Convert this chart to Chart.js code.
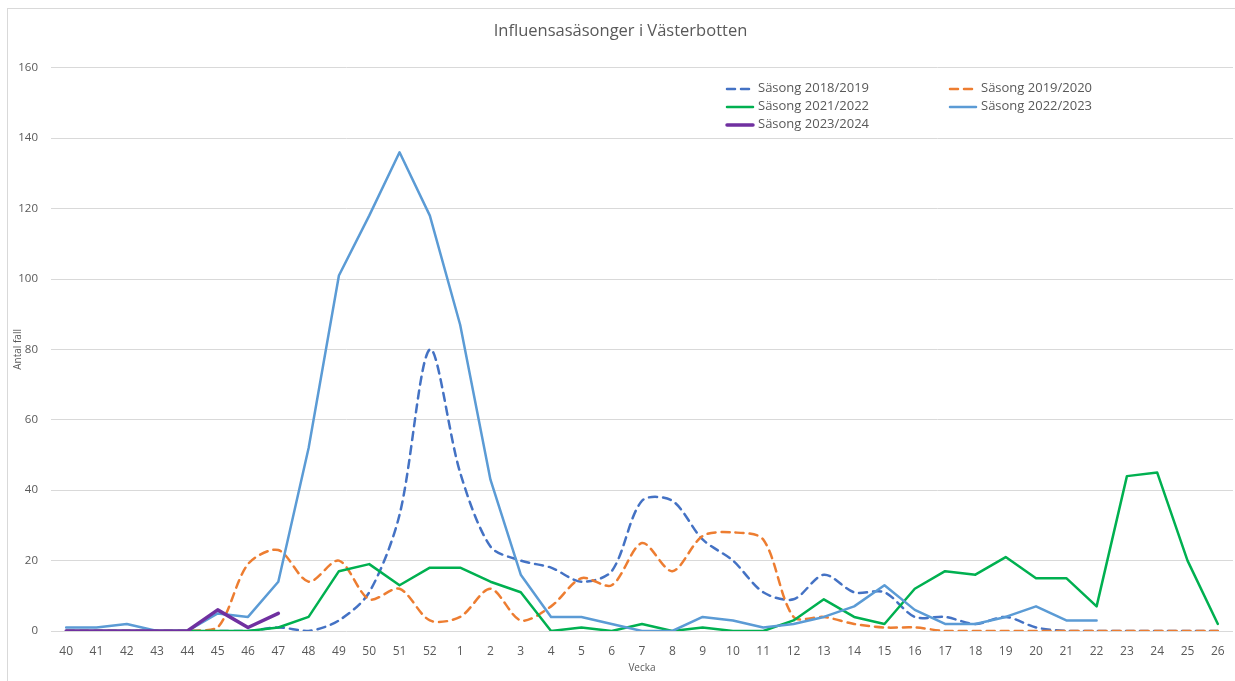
<!DOCTYPE html>
<html>
<head>
<meta charset="utf-8">
<script src="https://cdn.jsdelivr.net/npm/chart.js@4.4.0/dist/chart.umd.min.js"></script>
<style>
  html, body { margin: 0; padding: 0; background: #fff; }
  #wrap { position: relative; width: 1235px; height: 681px; overflow: hidden; }
  #frame { position: absolute; left: 7px; top: 8px; width: 1240px; height: 700px; border: 1px solid #d9d9d9; box-sizing: border-box; }
  #c { position: absolute; left: 0; top: 0; }
  .leg { position: absolute; font-family: "Open Sans", sans-serif; font-size: 13px; color: #595959; white-space: nowrap; line-height: 18px; }
  .leg canvas { vertical-align: middle; margin-right: 3px; }
</style>
</head>
<body>
<div id="wrap">
  <div id="frame"></div>
  <canvas id="c" width="1235" height="681"></canvas>
  <div id="legend"></div>
</div>
<script>
const weeks = ["40","41","42","43","44","45","46","47","48","49","50","51","52",
  "1","2","3","4","5","6","7","8","9","10","11","12","13","14","15","16","17","18","19","20","21","22","23","24","25","26"];

const s1819 = [0,0,0,0,0,0,0,1,0,3,11,33,80,45,24,20,18,14,17,37,37,26,20,11,9,16,11,11,4,4,2,4,1,0,0,0,0,0,0];
const s1920 = [0,0,0,0,0,1,19,23,14,20,9,12,3,4,12,3,7,15,13,25,17,27,28,26,4,4,2,1,1,0,0,0,0,0,0,0,0,0,0];
const s2122 = [0,0,0,0,0,0,0,1,4,17,19,13,18,18,14,11,0,1,0,2,0,1,0,0,3,9,4,2,12,17,16,21,15,15,7,44,45,20,2];
const s2223 = [1,1,2,0,0,5,4,14,52,101,118,136,118,87,43,16,4,4,2,0,0,4,3,1,2,4,7,13,6,2,2,4,7,3,3,null,null,null,null];
const s2324 = [0,0,0,0,0,6,1,5];

const labels = ["Säsong 2018/2019","Säsong 2019/2020","Säsong 2021/2022","Säsong 2022/2023","Säsong 2023/2024"];
const yTicks = [0,20,40,60,80,100,120,140,160];

const grey = "#595959";
const font = "'Open Sans', sans-serif";

const datasets = [
  { label: labels[0], data: s1819, borderColor: "#4472C4", borderDash: [8, 6], tension: 0.3, order: 5 },
  { label: labels[1], data: s1920, borderColor: "#ED7D31", borderDash: [8, 6], tension: 0.3, order: 4 },
  { label: labels[2], data: s2122, borderColor: "#00B050", tension: 0, order: 3 },
  { label: labels[3], data: s2223, borderColor: "#5B9BD5", tension: 0, order: 2 },
  { label: labels[4], data: s2324, borderColor: "#7030A0", tension: 0, order: 1, borderWidth: 3.5 }
];
datasets.forEach(d => {
  d.backgroundColor = d.borderColor;
  d.borderWidth = d.borderWidth || 2.5;
  d.pointRadius = 0;
  d.fill = false;
  d.borderCapStyle = "round";
  d.borderJoinStyle = "round";
});

const chart = new Chart("c", {
  type: "line",
  data: { labels: weeks, datasets: datasets },
  options: {
    responsive: false,
    animation: false,
    layout: { padding: { left: 8, right: 2, top: 0, bottom: 0 } },
    plugins: {
      legend: { display: false },
      tooltip: { enabled: false },
      title: {
        display: true,
        text: "Influensasäsonger i Västerbotten",
        color: grey,
        font: { family: font, size: 16.5, weight: "normal" },
        padding: { top: 21, bottom: 27 }
      }
    },
    scales: {
      x: {
        offset: true,
        grid: { display: false },
        border: { display: false },
        ticks: { color: grey, font: { family: font, size: 12 }, padding: 5, maxRotation: 0, autoSkip: false },
        title: { display: true, text: "Vecka", color: grey, font: { family: font, size: 10 }, padding: { top: 0, bottom: 7 } },
        afterFit: s => { s.height = 50; }
      },
      y: {
        min: 0,
        max: 160,
        afterBuildTicks: s => { s.ticks = yTicks.map(v => ({ value: v })); },
        grid: { color: "#d9d9d9", drawTicks: false },
        border: { display: false },
        ticks: { color: grey, font: { family: font, size: 11.5 }, padding: 13 },
        title: { display: true, text: "Antal fall", color: grey, font: { family: font, size: 10 }, padding: { top: 4, bottom: 0 } },
        afterFit: s => { s.width = 43; }
      }
    }
  }
});

// legend in two columns, like the original
const legPos = [[725, 78], [948, 78], [725, 96], [948, 96], [725, 114]];
const legend = document.getElementById("legend");
chart.data.datasets.forEach((d, i) => {
  const div = document.createElement("div");
  div.className = "leg";
  div.style.left = legPos[i][0] + "px";
  div.style.top = legPos[i][1] + "px";
  const sw = document.createElement("canvas");
  sw.width = 30; sw.height = 8;
  const ctx = sw.getContext("2d");
  ctx.strokeStyle = d.borderColor;
  ctx.lineWidth = d.borderWidth;
  ctx.lineCap = "round";
  if (d.borderDash) ctx.setLineDash(d.borderDash);
  ctx.beginPath(); ctx.moveTo(2, 4); ctx.lineTo(28, 4); ctx.stroke();
  div.appendChild(sw);
  div.appendChild(document.createTextNode(d.label));
  legend.appendChild(div);
});
</script>
</body>
</html>
